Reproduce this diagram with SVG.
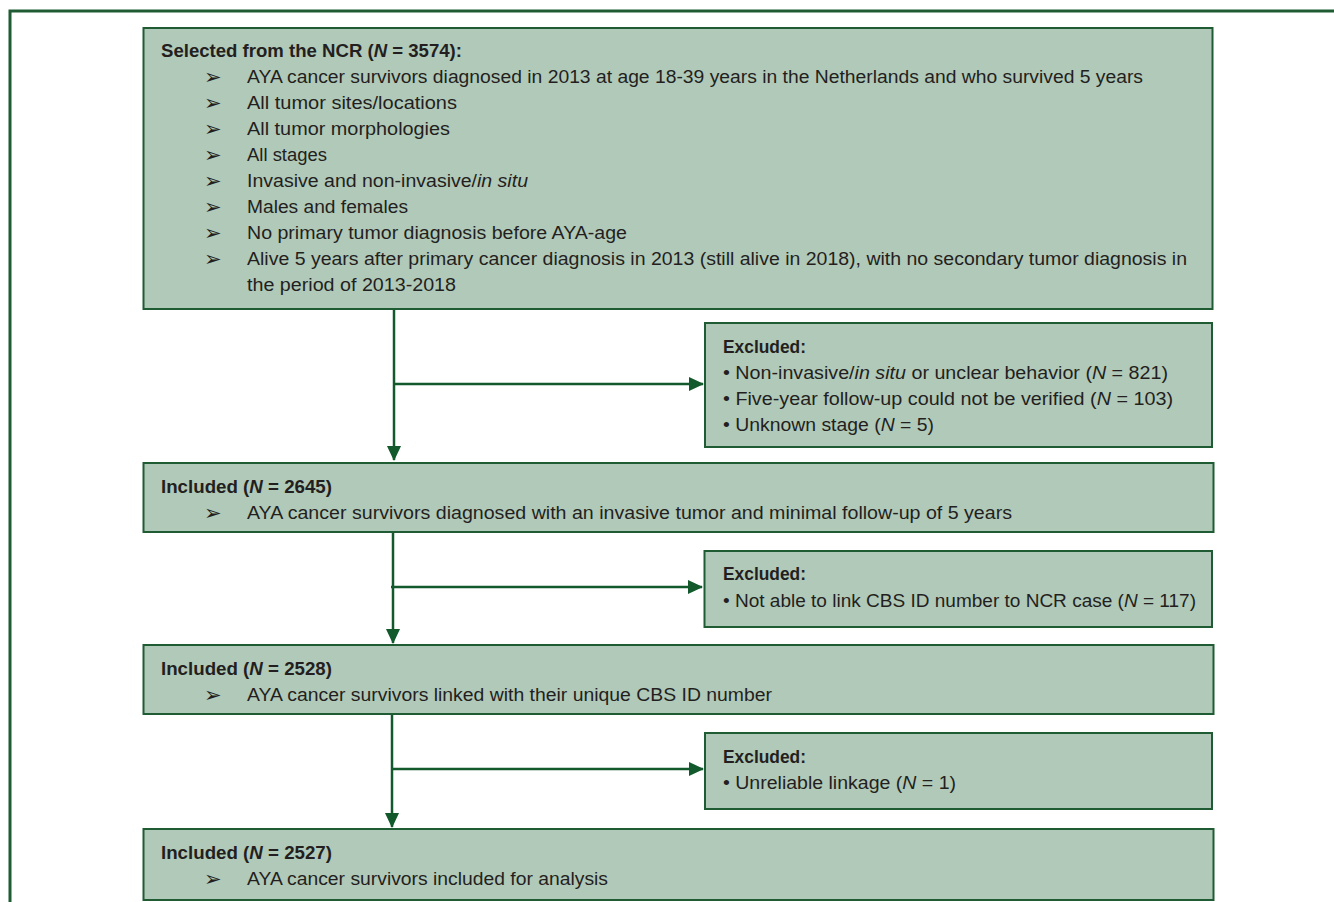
<svg xmlns="http://www.w3.org/2000/svg" width="1334" height="902" viewBox="0 0 1334 902">
<defs>
<style>
.box{fill:#b1c9b9;stroke:#1f5c33;stroke-width:2}
.frame{fill:none;stroke:#1f5c33;stroke-width:3}
.conn{fill:none;stroke:#125a2c;stroke-width:2.5}
text{font-family:"Liberation Sans",Arial,sans-serif;font-size:17.5px;fill:#231f20}
.b{font-weight:bold}
.i{font-style:italic}
.arr{font-family:"DejaVu Sans",sans-serif;font-size:21px}
</style>
<marker id="ah" viewBox="0 0 15 14" refX="14" refY="7" markerWidth="15" markerHeight="14" markerUnits="userSpaceOnUse" orient="auto">
<path d="M0,0 L15,7 L0,14 Z" fill="#125a2c"/>
</marker>
</defs>
<path class="frame" d="M10,902 V11 H1334"/>
<g id="connectors">
<path class="conn" d="M394,309 V460" marker-end="url(#ah)"/>
<path class="conn" d="M394,384 H703" marker-end="url(#ah)"/>
<path class="conn" d="M393,532 V643" marker-end="url(#ah)"/>
<path class="conn" d="M391,587 H702" marker-end="url(#ah)"/>
<path class="conn" d="M392,714 V827" marker-end="url(#ah)"/>
<path class="conn" d="M392,769 H703" marker-end="url(#ah)"/>
</g>
<g id="selected">
<rect class="box" x="143.5" y="28" width="1069" height="281"/>
<text class="b" x="161" y="57" textLength="301" lengthAdjust="spacingAndGlyphs">Selected from the NCR (<tspan class="i">N</tspan> = 3574):</text>
<text class="arr" x="204" y="84">➢</text>
<text x="247" y="83" textLength="896" lengthAdjust="spacingAndGlyphs">AYA cancer survivors diagnosed in 2013 at age 18-39 years in the Netherlands and who survived 5 years</text>
<text class="arr" x="204" y="110">➢</text>
<text x="247" y="109" textLength="210" lengthAdjust="spacingAndGlyphs">All tumor sites/locations</text>
<text class="arr" x="204" y="136">➢</text>
<text x="247" y="135" textLength="203" lengthAdjust="spacingAndGlyphs">All tumor morphologies</text>
<text class="arr" x="204" y="162">➢</text>
<text x="247" y="161" textLength="80" lengthAdjust="spacingAndGlyphs">All stages</text>
<text class="arr" x="204" y="188">➢</text>
<text x="247" y="187" textLength="281" lengthAdjust="spacingAndGlyphs">Invasive and non-invasive/<tspan class="i">in situ</tspan></text>
<text class="arr" x="204" y="214">➢</text>
<text x="247" y="213" textLength="161" lengthAdjust="spacingAndGlyphs">Males and females</text>
<text class="arr" x="204" y="240">➢</text>
<text x="247" y="239" textLength="380" lengthAdjust="spacingAndGlyphs">No primary tumor diagnosis before AYA-age</text>
<text class="arr" x="204" y="266">➢</text>
<text x="247" y="265" textLength="940" lengthAdjust="spacingAndGlyphs">Alive 5 years after primary cancer diagnosis in 2013 (still alive in 2018), with no secondary tumor diagnosis in</text>
<text x="247" y="291" textLength="209" lengthAdjust="spacingAndGlyphs">the period of 2013-2018</text>
</g>
<g id="excluded1">
<rect class="box" x="705" y="323" width="507" height="124"/>
<text class="b" x="723" y="353" textLength="83" lengthAdjust="spacingAndGlyphs">Excluded:</text>
<text x="723" y="379" textLength="445" lengthAdjust="spacingAndGlyphs">• Non-invasive/<tspan class="i">in situ</tspan> or unclear behavior (<tspan class="i">N</tspan> = 821)</text>
<text x="723" y="405" textLength="450" lengthAdjust="spacingAndGlyphs">• Five-year follow-up could not be verified (<tspan class="i">N</tspan> = 103)</text>
<text x="723" y="431" textLength="211" lengthAdjust="spacingAndGlyphs">• Unknown stage (<tspan class="i">N</tspan> = 5)</text>
</g>
<g id="included1">
<rect class="box" x="143.5" y="463" width="1070" height="69"/>
<text class="b" x="161" y="493" textLength="171" lengthAdjust="spacingAndGlyphs">Included (<tspan class="i">N</tspan> = 2645)</text>
<text class="arr" x="204" y="520">➢</text>
<text x="247" y="519" textLength="765" lengthAdjust="spacingAndGlyphs">AYA cancer survivors diagnosed with an invasive tumor and minimal follow-up of 5 years</text>
</g>
<g id="excluded2">
<rect class="box" x="704.5" y="551" width="507.5" height="76"/>
<text class="b" x="723" y="580" textLength="83" lengthAdjust="spacingAndGlyphs">Excluded:</text>
<text x="723" y="607" textLength="473" lengthAdjust="spacingAndGlyphs">• Not able to link CBS ID number to NCR case (<tspan class="i">N</tspan> = 117)</text>
</g>
<g id="included2">
<rect class="box" x="143.5" y="645" width="1070" height="69"/>
<text class="b" x="161" y="675" textLength="171" lengthAdjust="spacingAndGlyphs">Included (<tspan class="i">N</tspan> = 2528)</text>
<text class="arr" x="204" y="702">➢</text>
<text x="247" y="701" textLength="525" lengthAdjust="spacingAndGlyphs">AYA cancer survivors linked with their unique CBS ID number</text>
</g>
<g id="excluded3">
<rect class="box" x="705" y="733" width="507" height="76"/>
<text class="b" x="723" y="763" textLength="83" lengthAdjust="spacingAndGlyphs">Excluded:</text>
<text x="723" y="789" textLength="233" lengthAdjust="spacingAndGlyphs">• Unreliable linkage (<tspan class="i">N</tspan> = 1)</text>
</g>
<g id="included3">
<rect class="box" x="143.5" y="829" width="1070" height="71"/>
<text class="b" x="161" y="859" textLength="171" lengthAdjust="spacingAndGlyphs">Included (<tspan class="i">N</tspan> = 2527)</text>
<text class="arr" x="204" y="886">➢</text>
<text x="247" y="885" textLength="361" lengthAdjust="spacingAndGlyphs">AYA cancer survivors included for analysis</text>
</g>
</svg>
